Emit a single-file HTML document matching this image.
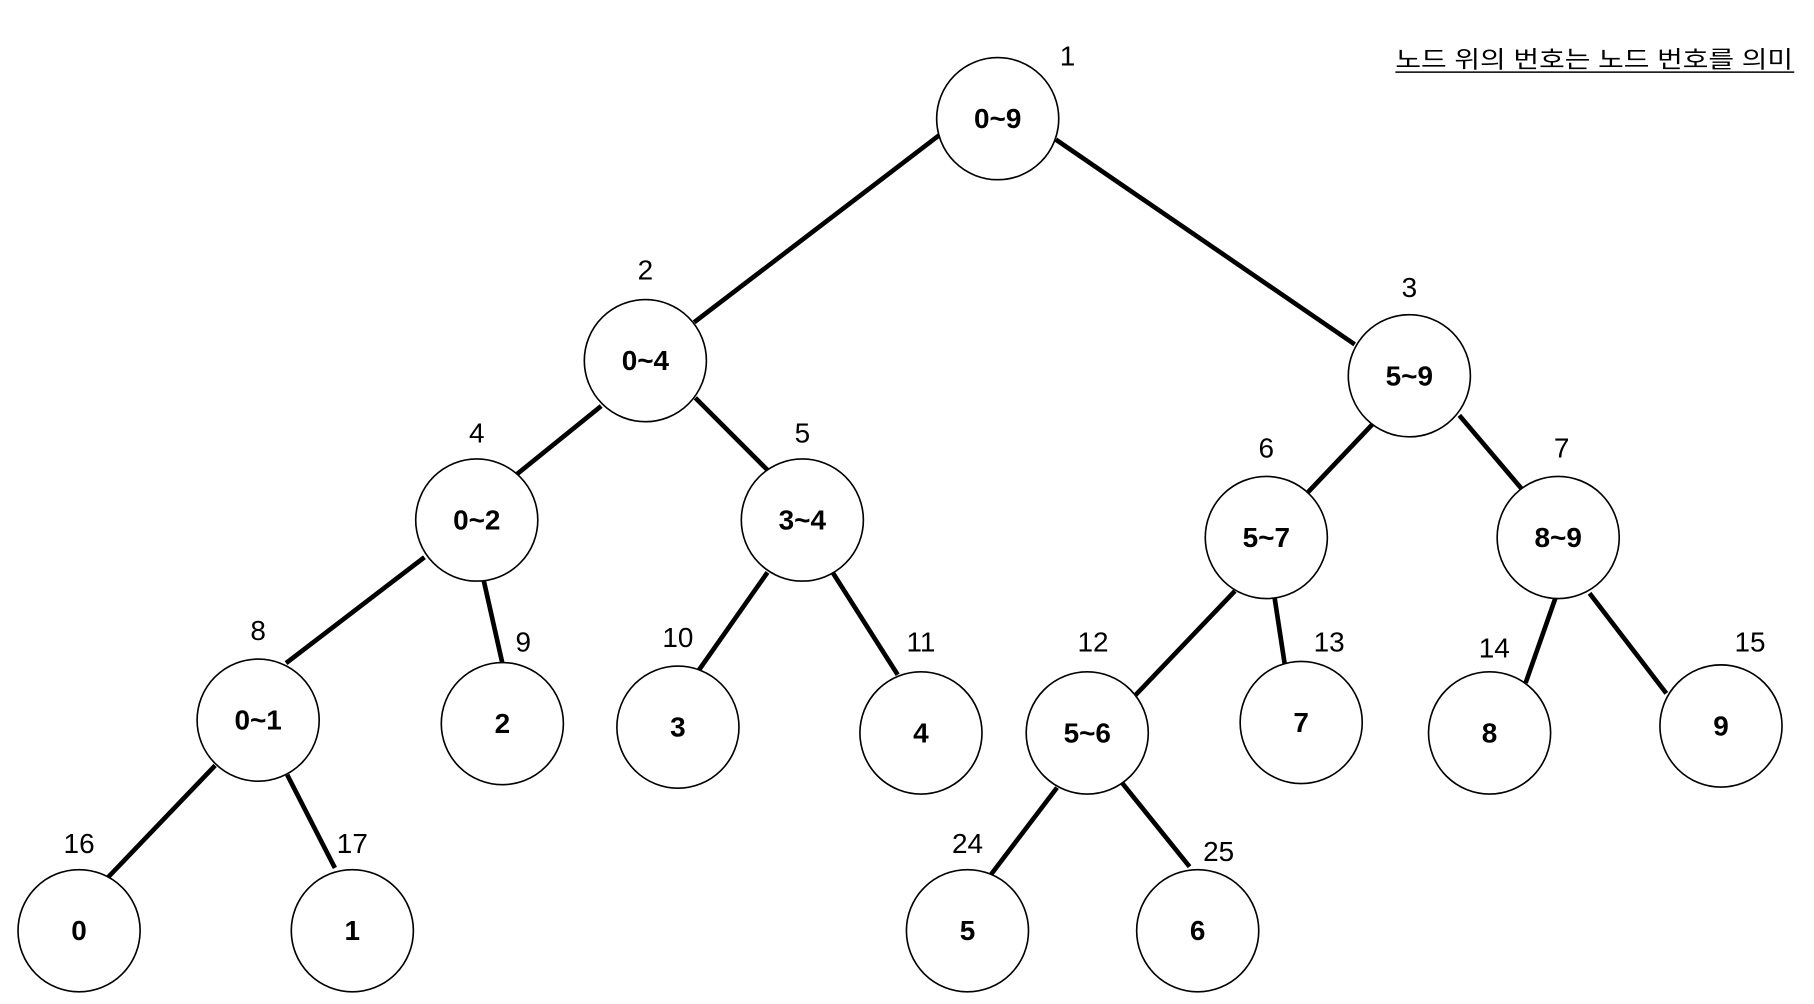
<!DOCTYPE html>
<html><head><meta charset="utf-8"><style>
html,body{margin:0;padding:0;background:#fff;}
svg{display:block;}
.n{font-family:"Liberation Sans",sans-serif;font-weight:bold;font-size:24px;text-anchor:middle;dominant-baseline:central;}
.l{font-family:"Liberation Sans",sans-serif;font-size:24px;text-anchor:middle;dominant-baseline:central;}
</style></head><body>
<svg width="1814" height="1004" viewBox="0 0 1560 863" preserveAspectRatio="none" xmlns="http://www.w3.org/2000/svg">
<g stroke="#000" stroke-width="4" stroke-linecap="butt">
<line x1="808" y1="116" x2="597" y2="277"/>
<line x1="908" y1="120" x2="1165" y2="296"/>
<line x1="517" y1="349" x2="444" y2="408"/>
<line x1="598" y1="342" x2="660" y2="404"/>
<line x1="365" y1="479" x2="246" y2="570"/>
<line x1="416" y1="499" x2="432" y2="570"/>
<line x1="660" y1="492" x2="601" y2="576"/>
<line x1="716" y1="492" x2="772" y2="580"/>
<line x1="1180" y1="365" x2="1124" y2="424"/>
<line x1="1255" y1="357" x2="1311" y2="423"/>
<line x1="1062" y1="508" x2="976" y2="598"/>
<line x1="1096" y1="513" x2="1105" y2="572"/>
<line x1="1338" y1="513" x2="1312" y2="587"/>
<line x1="1367" y1="510" x2="1433" y2="596"/>
<line x1="185" y1="658" x2="93" y2="754"/>
<line x1="247" y1="666" x2="288" y2="746"/>
<line x1="909" y1="677" x2="852" y2="752"/>
<line x1="965" y1="673" x2="1023" y2="745"/>
</g>
<g fill="#fff" stroke="#000" stroke-width="1.4">
<circle cx="858" cy="102" r="52.5"/>
<circle cx="555" cy="310" r="52.5"/>
<circle cx="1212" cy="323" r="52.5"/>
<circle cx="410" cy="447" r="52.5"/>
<circle cx="690" cy="447" r="52.5"/>
<circle cx="1089" cy="462" r="52.5"/>
<circle cx="1340" cy="462" r="52.5"/>
<circle cx="222" cy="619" r="52.5"/>
<circle cx="432" cy="622" r="52.5"/>
<circle cx="583" cy="625" r="52.5"/>
<circle cx="792" cy="630" r="52.5"/>
<circle cx="935" cy="630" r="52.5"/>
<circle cx="1119" cy="621" r="52.5"/>
<circle cx="1281" cy="630" r="52.5"/>
<circle cx="1480" cy="624" r="52.5"/>
<circle cx="68" cy="800" r="52.5"/>
<circle cx="303" cy="800" r="52.5"/>
<circle cx="832" cy="800" r="52.5"/>
<circle cx="1030" cy="800" r="52.5"/>
</g>
<g class="n">
<text x="858" y="102">0~9</text>
<text x="555" y="310">0~4</text>
<text x="1212" y="323">5~9</text>
<text x="410" y="447">0~2</text>
<text x="690" y="447">3~4</text>
<text x="1089" y="462">5~7</text>
<text x="1340" y="462">8~9</text>
<text x="222" y="619">0~1</text>
<text x="432" y="622">2</text>
<text x="583" y="625">3</text>
<text x="792" y="630">4</text>
<text x="935" y="630">5~6</text>
<text x="1119" y="621">7</text>
<text x="1281" y="630">8</text>
<text x="1480" y="624">9</text>
<text x="68" y="800">0</text>
<text x="303" y="800">1</text>
<text x="832" y="800">5</text>
<text x="1030" y="800">6</text>
</g>
<g class="l">
<text x="918" y="48">1</text>
<text x="555" y="232">2</text>
<text x="1212" y="247">3</text>
<text x="410" y="372">4</text>
<text x="690" y="372">5</text>
<text x="1089" y="385">6</text>
<text x="1343" y="385">7</text>
<text x="222" y="542">8</text>
<text x="450" y="552">9</text>
<text x="583" y="548">10</text>
<text x="792" y="552">11</text>
<text x="940" y="552">12</text>
<text x="1143" y="552">13</text>
<text x="1285" y="557">14</text>
<text x="1505" y="552">15</text>
<text x="68" y="725">16</text>
<text x="303" y="725">17</text>
<text x="832" y="725">24</text>
<text x="1048" y="732">25</text>
</g>
<text x="1371" y="58" text-anchor="middle" textLength="342" lengthAdjust="spacingAndGlyphs" style="font-family:'Liberation Sans','Noto Sans CJK KR',sans-serif;font-size:20px;">노드 위의 번호는 노드 번호를 의미</text>
<line x1="1200" y1="62" x2="1543" y2="62" stroke="#000" stroke-width="1.2"/>
</svg>
</body></html>
